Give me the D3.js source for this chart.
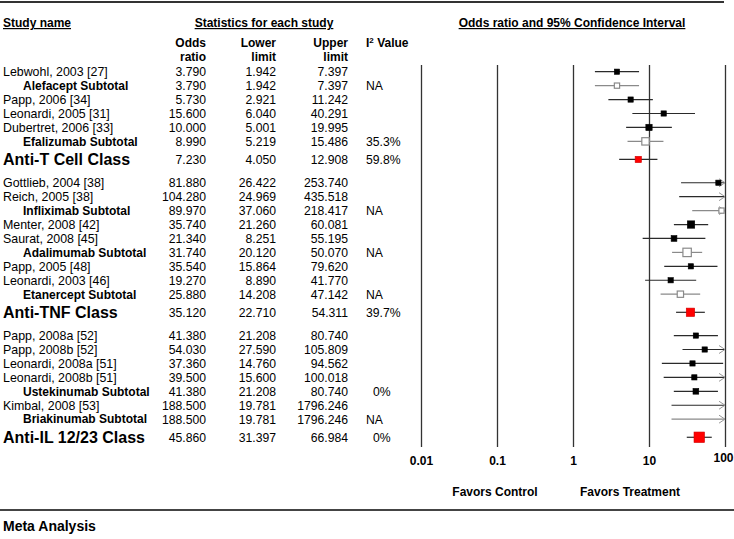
<!DOCTYPE html>
<html><head><meta charset="utf-8">
<script src="https://cdn.jsdelivr.net/npm/d3@7"></script>
<style>
body{margin:0;background:#fff}
text{font-family:"Liberation Sans",Arial,Helvetica,sans-serif;fill:#000}
</style>
</head><body>
<svg id="c" width="734" height="539"></svg>
<script>
const studyNames = ["Lebwohl, 2003 [27]","Alefacept Subtotal","Papp, 2006 [34]","Leonardi, 2005 [31]","Dubertret, 2006 [33]","Efalizumab Subtotal","Anti-T Cell Class",
  "Gottlieb, 2004 [38]","Reich, 2005 [38]","Infliximab Subtotal","Menter, 2008 [42]","Saurat, 2008 [45]","Adalimumab Subtotal","Papp, 2005 [48]","Leonardi, 2003 [46]","Etanercept Subtotal","Anti-TNF Class",
  "Papp, 2008a [52]","Papp, 2008b [52]","Leonardi, 2008a [51]","Leonardi, 2008b [51]","Ustekinumab Subtotal","Kimbal, 2008 [53]","Briakinumab Subtotal","Anti-IL 12/23 Class"];
const rowTypes = ["study","subtotal","study","study","study","subtotal","class",
  "study","study","subtotal","study","study","subtotal","study","study","subtotal","class",
  "study","study","study","study","subtotal","study","subtotal","class"];
const oddsRatios = [3.790,3.790,5.730,15.600,10.000,8.990,7.230,
  81.880,104.280,89.970,35.740,21.340,31.740,35.540,19.270,25.880,35.120,
  41.380,54.030,37.360,39.500,41.380,188.500,188.500,45.860];
const lowerLimits = [1.942,1.942,2.921,6.040,5.001,5.219,4.050,
  26.422,24.969,37.060,21.260,8.251,20.120,15.864,8.890,14.208,22.710,
  21.208,27.590,14.760,15.600,21.208,19.781,19.781,31.397];
const upperLimits = [7.397,7.397,11.242,40.291,19.995,15.486,12.908,
  253.740,435.518,218.417,60.081,55.195,50.070,79.620,41.770,47.142,54.311,
  80.740,105.809,94.562,100.018,80.740,1796.246,1796.246,66.984];
const i2Values = ["","NA","","","","35.3%","59.8%",
  "","","NA","","","NA","","","NA","39.7%",
  "","","","","0%","","NA","0%"];
const weights = [25,25,25,25,36,49,36,
  25,25,25,49,30,64,25,25,36,64,
  25,25,25,25,30,25,25,100];
const filledSubtotals = ["Ustekinumab Subtotal"];
const tickValues = [0.01,0.1,1,10,100];
const tickLabels = ["0.01","0.1","1","10","100"];
const columnHeaders = [["Odds","ratio"],["Lower","limit"],["Upper","limit"]];

const svg = d3.select("#c");
const fmt = d3.format(".3f");

// row positions (class rows separated by an extra gap)
const rowPos = [];
let cur = 0;
rowTypes.forEach((t,i)=>{
  if(i>0){
    if(t==="class") cur += 1.3;
    else if(rowTypes[i-1]==="class") cur += 1.67;
    else cur += 1;
  }
  rowPos.push(cur);
});
const rows = studyNames.map((n,i)=>({name:n,type:rowTypes[i],or:oddsRatios[i],lo:lowerLimits[i],hi:upperLimits[i],i2:i2Values[i],w:weights[i],p:rowPos[i]}));

const y = d3.scaleLinear().domain([0,25]).range([71.7,420]);
const x = d3.scaleLog().domain([0.01,100]).range([421,725]);
const size = d3.scaleSqrt().domain([0,100]).range([0,10.5]);

// top & bottom rules
svg.append("line").attr("x1",0).attr("x2",724).attr("y1",2).attr("y2",2).attr("stroke","#333").attr("stroke-width",2);
svg.append("line").attr("x1",0).attr("x2",734).attr("y1",510).attr("y2",510).attr("stroke","#444").attr("stroke-width",2);

// headers
const hdr = (t,xx,yy,anchor)=>svg.append("text").attr("x",xx).attr("y",yy).attr("text-anchor",anchor)
  .attr("font-size",12).attr("font-weight","bold").text(t);
hdr("Study name",3,27,"start").attr("text-decoration","underline");
hdr("Statistics for each study",264,27,"middle").attr("text-decoration","underline");
hdr("Odds ratio and 95% Confidence Interval",572,27,"middle").attr("text-decoration","underline");
const colX = [206,276,348];
columnHeaders.forEach((h,j)=>{
  hdr(h[0],colX[j],47,"end");
  hdr(h[1],colX[j],61,"end");
});
const i2h = hdr("I",366,47,"start");
i2h.append("tspan").attr("font-size",8).attr("dy",-4).text("2");
i2h.append("tspan").attr("dy",4).text(" Value");

// table rows
const tg = svg.append("g");
rows.forEach(r=>{
  const yy = y(r.p);
  const isClass = r.type==="class", isSub = r.type==="subtotal";
  const fs = isClass?16:(isSub?12:12.4);
  const fw = (isClass||isSub)?"bold":"normal";
  const t = (tx,xx,anchor,f,w)=>tg.append("text").attr("x",xx).attr("y",yy).attr("dy","0.36em")
      .attr("text-anchor",anchor).attr("font-size",f).attr("font-weight",w).text(tx);
  t(r.name, isSub?23:3, "start", fs, fw);
  t(fmt(r.or), colX[0], "end", 12.2, "normal");
  t(fmt(r.lo), colX[1], "end", 12.2, "normal");
  t(fmt(r.hi), colX[2], "end", 12.2, "normal");
  if(r.i2) t(r.i2, r.i2==="0%"?373:366, "start", 12.2, "normal");
});

// axis with full-height grid lines
const gridTop = 65, gridBottom = 447;
const ax = svg.append("g").attr("transform",`translate(0,${gridBottom})`)
  .call(d3.axisBottom(x).tickValues(tickValues).tickFormat((d,i)=>tickLabels[i])
        .tickSize(-(gridBottom-gridTop)).tickPadding(9));
ax.select(".domain").remove();
ax.selectAll(".tick line").attr("stroke","#333").attr("stroke-width",1.3);
ax.selectAll(".tick text").attr("font-size",12).attr("font-weight","bold")
  .attr("font-family","'Liberation Sans',Arial,sans-serif").attr("fill","#000");
// keep the last label inside the page
ax.selectAll(".tick text").filter((d,i)=>i===tickValues.length-1)
  .attr("text-anchor","end").attr("x",8).attr("y",6);

// forest plot marks
const pg = svg.append("g");
const xMax = x.domain()[1];
rows.forEach(r=>{
  const yy = y(r.p);
  const isSub = r.type==="subtotal", isClass = r.type==="class";
  const filledSub = filledSubtotals.includes(r.name);
  const lc = (isSub && !filledSub)?"#8a8a8a":"#2a2a2a";
  const hiC = Math.min(r.hi,xMax);
  pg.append("line").attr("x1",x(r.lo)).attr("x2",x(hiC)).attr("y1",yy).attr("y2",yy)
    .attr("stroke",lc).attr("stroke-width",1.2);
  if(r.hi>xMax){
    const xe = x(xMax);
    pg.append("path").attr("d",`M${xe-6},${yy-4}L${xe},${yy}L${xe-6},${yy+4}`)
      .attr("fill","none").attr("stroke","#999").attr("stroke-width",1);
  }
  if(r.or<=xMax){
    const s = size(r.w);
    let fill="#000", stroke="#000";
    if(isClass){fill="#ff0000";stroke="#d00000";}
    else if(isSub && !filledSub){fill="#fff";stroke="#8a8a8a";}
    pg.append("rect").attr("x",x(r.or)-s/2).attr("y",yy-s/2).attr("width",s).attr("height",s)
      .attr("fill",fill).attr("stroke",stroke).attr("stroke-width",isSub&&!filledSub?1.2:0.6);
  }
});

// favors labels & footer
hdr("Favors Control",495,496,"middle");
hdr("Favors Treatment",630,496,"middle");
svg.append("text").attr("x",3).attr("y",531).attr("font-size",14).attr("font-weight","bold").text("Meta Analysis");
</script>
</body></html>
